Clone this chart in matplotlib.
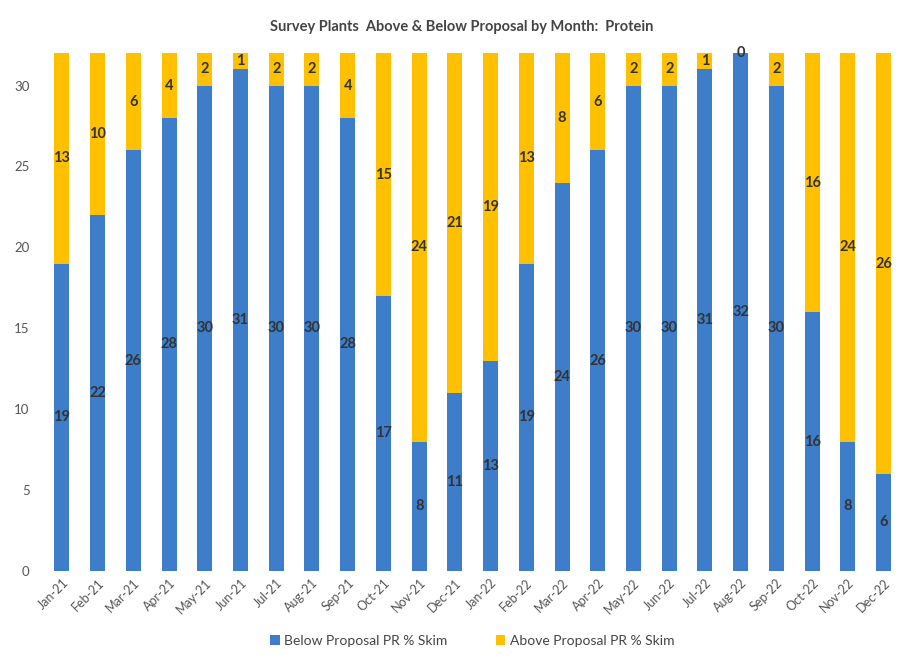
import matplotlib
matplotlib.use("Agg")
import matplotlib.pyplot as plt
import numpy as np

months = ["Jan-21","Feb-21","Mar-21","Apr-21","May-21","Jun-21","Jul-21","Aug-21","Sep-21","Oct-21","Nov-21","Dec-21",
          "Jan-22","Feb-22","Mar-22","Apr-22","May-22","Jun-22","Jul-22","Aug-22","Sep-22","Oct-22","Nov-22","Dec-22"]
below = [19,22,26,28,30,31,30,30,28,17,8,11,13,19,24,26,30,30,31,32,30,16,8,6]
above = [13,10,6,4,2,1,2,2,4,15,24,21,19,13,8,6,2,2,1,0,2,16,24,26]

plt.rcParams['font.family'] = ['Lato', 'DejaVu Sans']

fig = plt.figure(figsize=(9.07, 6.58), dpi=100)
ax = fig.add_axes([38/907, (658-571)/658, (905-38)/907, (571-37)/658])

blue = "#3D7DCA"
gold = "#FFC000"
x = np.arange(len(months))
w = 0.42
ax.bar(x, below, width=w, color=blue, label="Below Proposal PR % Skim")
ax.bar(x, above, width=w, bottom=below, color=gold, label="Above Proposal PR % Skim")

for i in range(len(months)):
    ax.text(x[i], below[i] / 2, str(below[i]), ha="center", va="center",
            fontsize=10.5, fontweight="bold", color="#333333")
    ax.text(x[i], below[i] + above[i] / 2, str(above[i]), ha="center", va="center",
            fontsize=10.5, fontweight="bold", color="#333333")

ax.set_xlim(-0.67, 23.6)
ax.set_ylim(0, 33)
ax.set_yticks([0, 5, 10, 15, 20, 25, 30])
ax.set_xticks(x)
ax.set_xticklabels(months, rotation=45, ha="right", rotation_mode="anchor", fontsize=9, color="#555555")
ax.tick_params(axis="y", labelsize=9.5, colors="#555555", length=0, pad=6)
ax.tick_params(axis="x", length=0, pad=4)
for s in ax.spines.values():
    s.set_visible(False)

fig.text(462/907, 1 - 27/658, "Survey Plants  Above & Below Proposal by Month:  Protein",
         ha="center", va="center", fontsize=10.5, fontweight="bold", color="#444444")

leg = fig.legend(loc="center", bbox_to_anchor=(472/907, 1 - 641/658), ncol=2, frameon=False,
                 fontsize=10, handlelength=0.7, handleheight=0.7, columnspacing=3.5, handletextpad=0.3)
for t in leg.get_texts():
    t.set_color("#444444")

fig.savefig("out.png", dpi=100, facecolor="white")
